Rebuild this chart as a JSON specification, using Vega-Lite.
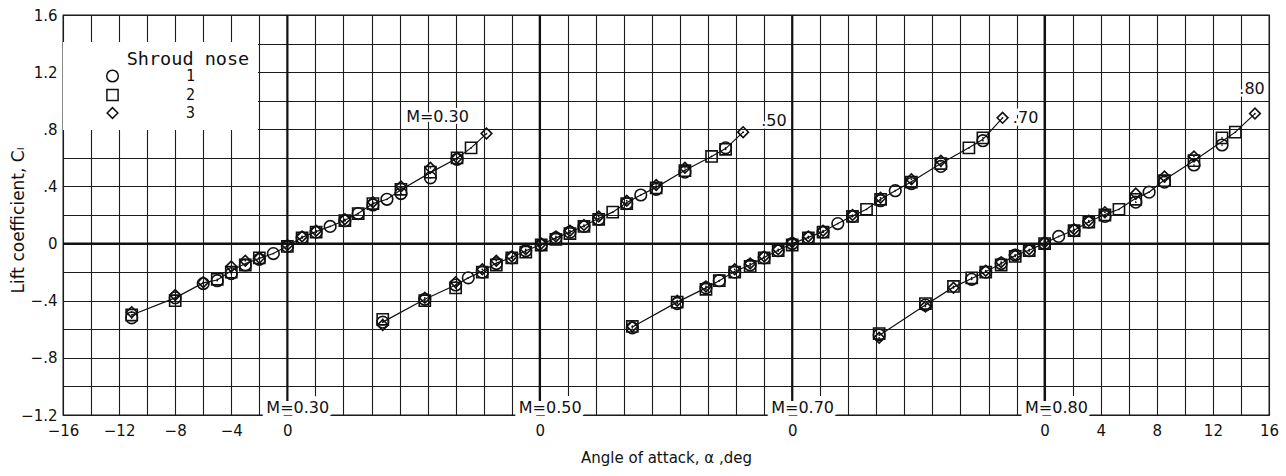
{
  "$schema": "https://vega.github.io/schema/vega-lite/v6.json",
  "width": 1206,
  "height": 400,
  "autosize": {"type": "none"},
  "padding": {"left": 63, "top": 15, "right": 17, "bottom": 61},
  "background": "white",
  "config": {
    "font": "DejaVu Sans",
    "view": {"stroke": "#111", "strokeWidth": 1.3},
    "axis": {
      "domain": false,
      "ticks": false,
      "gridColor": "#1c1c1c",
      "gridWidth": 1.1,
      "gridOpacity": 1,
      "labelColor": "#111",
      "titleColor": "#111",
      "labelFont": "DejaVu Sans",
      "titleFont": "DejaVu Sans",
      "titleFontWeight": "normal",
      "labelFlush": false
    },
    "legend": {
      "orient": "none",
      "legendX": 0,
      "legendY": 27,
      "fillColor": "white",
      "padding": 8,
      "symbolOffset": 34,
      "symbolStrokeColor": "#111",
      "symbolStrokeWidth": 1.5,
      "labelOffset": 66,
      "rowPadding": 0,
      "titlePadding": 0,
      "titleFont": "DejaVu Sans Mono",
      "titleFontSize": 18.5,
      "titleFontWeight": "normal",
      "titleColor": "#111",
      "labelFont": "DejaVu Sans Mono",
      "labelFontSize": 15,
      "labelColor": "#111"
    }
  },
  "resolve": {"axis": {"x": "independent", "y": "independent"}},
  "datasets": {
    "lift": [
      {"m": 0.3, "n": 1, "a": -11.1, "cl": -0.52}, {"m": 0.3, "n": 2, "a": -11.1, "cl": -0.50}, {"m": 0.3, "n": 3, "a": -11.1, "cl": -0.48},
      {"m": 0.3, "n": 1, "a": -8, "cl": -0.38}, {"m": 0.3, "n": 2, "a": -8, "cl": -0.40}, {"m": 0.3, "n": 3, "a": -8, "cl": -0.36},
      {"m": 0.3, "n": 1, "a": -6, "cl": -0.28}, {"m": 0.3, "n": 3, "a": -6, "cl": -0.27},
      {"m": 0.3, "n": 1, "a": -5, "cl": -0.26}, {"m": 0.3, "n": 2, "a": -5, "cl": -0.25},
      {"m": 0.3, "n": 1, "a": -4, "cl": -0.21}, {"m": 0.3, "n": 2, "a": -4, "cl": -0.20}, {"m": 0.3, "n": 3, "a": -4, "cl": -0.16},
      {"m": 0.3, "n": 1, "a": -3, "cl": -0.15}, {"m": 0.3, "n": 2, "a": -3, "cl": -0.15}, {"m": 0.3, "n": 3, "a": -3, "cl": -0.12},
      {"m": 0.3, "n": 1, "a": -2, "cl": -0.11}, {"m": 0.3, "n": 2, "a": -2, "cl": -0.10}, {"m": 0.3, "n": 3, "a": -2, "cl": -0.10},
      {"m": 0.3, "n": 1, "a": -1, "cl": -0.07},
      {"m": 0.3, "n": 1, "a": 0, "cl": -0.02}, {"m": 0.3, "n": 2, "a": 0, "cl": -0.02}, {"m": 0.3, "n": 3, "a": 0, "cl": -0.01},
      {"m": 0.3, "n": 1, "a": 1.05, "cl": 0.04}, {"m": 0.3, "n": 2, "a": 1.05, "cl": 0.04}, {"m": 0.3, "n": 3, "a": 1.05, "cl": 0.05},
      {"m": 0.3, "n": 1, "a": 2.05, "cl": 0.08}, {"m": 0.3, "n": 2, "a": 2.05, "cl": 0.08}, {"m": 0.3, "n": 3, "a": 2.05, "cl": 0.09},
      {"m": 0.3, "n": 1, "a": 3.05, "cl": 0.12},
      {"m": 0.3, "n": 1, "a": 4.1, "cl": 0.16}, {"m": 0.3, "n": 2, "a": 4.1, "cl": 0.16}, {"m": 0.3, "n": 3, "a": 4.1, "cl": 0.17},
      {"m": 0.3, "n": 1, "a": 5.05, "cl": 0.21}, {"m": 0.3, "n": 2, "a": 5.05, "cl": 0.21},
      {"m": 0.3, "n": 1, "a": 6.1, "cl": 0.27}, {"m": 0.3, "n": 2, "a": 6.1, "cl": 0.28}, {"m": 0.3, "n": 3, "a": 6.1, "cl": 0.29},
      {"m": 0.3, "n": 1, "a": 7.1, "cl": 0.31},
      {"m": 0.3, "n": 1, "a": 8.1, "cl": 0.35}, {"m": 0.3, "n": 2, "a": 8.1, "cl": 0.38}, {"m": 0.3, "n": 3, "a": 8.1, "cl": 0.40},
      {"m": 0.3, "n": 1, "a": 10.2, "cl": 0.46}, {"m": 0.3, "n": 2, "a": 10.2, "cl": 0.50}, {"m": 0.3, "n": 3, "a": 10.2, "cl": 0.53},
      {"m": 0.3, "n": 1, "a": 12.1, "cl": 0.59}, {"m": 0.3, "n": 2, "a": 12.1, "cl": 0.60}, {"m": 0.3, "n": 3, "a": 12.1, "cl": 0.60},
      {"m": 0.3, "n": 2, "a": 13.1, "cl": 0.67},
      {"m": 0.3, "n": 3, "a": 14.2, "cl": 0.77},

      {"m": 0.5, "n": 1, "a": -11.2, "cl": -0.55}, {"m": 0.5, "n": 2, "a": -11.2, "cl": -0.53}, {"m": 0.5, "n": 3, "a": -11.2, "cl": -0.57},
      {"m": 0.5, "n": 1, "a": -8.2, "cl": -0.39}, {"m": 0.5, "n": 2, "a": -8.2, "cl": -0.40}, {"m": 0.5, "n": 3, "a": -8.2, "cl": -0.38},
      {"m": 0.5, "n": 1, "a": -6, "cl": -0.29}, {"m": 0.5, "n": 2, "a": -6, "cl": -0.31}, {"m": 0.5, "n": 3, "a": -6, "cl": -0.27},
      {"m": 0.5, "n": 1, "a": -5.1, "cl": -0.24},
      {"m": 0.5, "n": 1, "a": -4.1, "cl": -0.20}, {"m": 0.5, "n": 2, "a": -4.1, "cl": -0.20}, {"m": 0.5, "n": 3, "a": -4.1, "cl": -0.18},
      {"m": 0.5, "n": 1, "a": -3.1, "cl": -0.14}, {"m": 0.5, "n": 2, "a": -3.1, "cl": -0.15}, {"m": 0.5, "n": 3, "a": -3.1, "cl": -0.12},
      {"m": 0.5, "n": 1, "a": -2, "cl": -0.10}, {"m": 0.5, "n": 2, "a": -2, "cl": -0.10}, {"m": 0.5, "n": 3, "a": -2, "cl": -0.09},
      {"m": 0.5, "n": 1, "a": -1, "cl": -0.05}, {"m": 0.5, "n": 2, "a": -1, "cl": -0.06}, {"m": 0.5, "n": 3, "a": -1, "cl": -0.04},
      {"m": 0.5, "n": 1, "a": 0.1, "cl": -0.01}, {"m": 0.5, "n": 2, "a": 0.1, "cl": -0.01}, {"m": 0.5, "n": 3, "a": 0.1, "cl": 0.0},
      {"m": 0.5, "n": 1, "a": 1.15, "cl": 0.04}, {"m": 0.5, "n": 2, "a": 1.15, "cl": 0.03}, {"m": 0.5, "n": 3, "a": 1.15, "cl": 0.05},
      {"m": 0.5, "n": 1, "a": 2.15, "cl": 0.08}, {"m": 0.5, "n": 2, "a": 2.15, "cl": 0.07}, {"m": 0.5, "n": 3, "a": 2.15, "cl": 0.09},
      {"m": 0.5, "n": 1, "a": 3.15, "cl": 0.12}, {"m": 0.5, "n": 2, "a": 3.15, "cl": 0.12}, {"m": 0.5, "n": 3, "a": 3.15, "cl": 0.13},
      {"m": 0.5, "n": 1, "a": 4.2, "cl": 0.17}, {"m": 0.5, "n": 2, "a": 4.2, "cl": 0.17}, {"m": 0.5, "n": 3, "a": 4.2, "cl": 0.19},
      {"m": 0.5, "n": 2, "a": 5.2, "cl": 0.22},
      {"m": 0.5, "n": 1, "a": 6.2, "cl": 0.28}, {"m": 0.5, "n": 2, "a": 6.2, "cl": 0.28}, {"m": 0.5, "n": 3, "a": 6.2, "cl": 0.30},
      {"m": 0.5, "n": 1, "a": 7.2, "cl": 0.34},
      {"m": 0.5, "n": 1, "a": 8.3, "cl": 0.38}, {"m": 0.5, "n": 2, "a": 8.3, "cl": 0.39}, {"m": 0.5, "n": 3, "a": 8.3, "cl": 0.41},
      {"m": 0.5, "n": 1, "a": 10.35, "cl": 0.50}, {"m": 0.5, "n": 2, "a": 10.35, "cl": 0.51}, {"m": 0.5, "n": 3, "a": 10.35, "cl": 0.53},
      {"m": 0.5, "n": 2, "a": 12.25, "cl": 0.61},
      {"m": 0.5, "n": 1, "a": 13.25, "cl": 0.67}, {"m": 0.5, "n": 2, "a": 13.25, "cl": 0.66},
      {"m": 0.5, "n": 3, "a": 14.5, "cl": 0.78},

      {"m": 0.7, "n": 1, "a": -11.4, "cl": -0.59}, {"m": 0.7, "n": 2, "a": -11.4, "cl": -0.58}, {"m": 0.7, "n": 3, "a": -11.4, "cl": -0.58},
      {"m": 0.7, "n": 1, "a": -8.2, "cl": -0.42}, {"m": 0.7, "n": 2, "a": -8.2, "cl": -0.41}, {"m": 0.7, "n": 3, "a": -8.2, "cl": -0.40},
      {"m": 0.7, "n": 1, "a": -6.15, "cl": -0.31}, {"m": 0.7, "n": 2, "a": -6.15, "cl": -0.32}, {"m": 0.7, "n": 3, "a": -6.15, "cl": -0.30},
      {"m": 0.7, "n": 1, "a": -5.2, "cl": -0.26}, {"m": 0.7, "n": 2, "a": -5.2, "cl": -0.26},
      {"m": 0.7, "n": 1, "a": -4.1, "cl": -0.20}, {"m": 0.7, "n": 2, "a": -4.1, "cl": -0.20}, {"m": 0.7, "n": 3, "a": -4.1, "cl": -0.18},
      {"m": 0.7, "n": 1, "a": -3, "cl": -0.15}, {"m": 0.7, "n": 2, "a": -3, "cl": -0.16}, {"m": 0.7, "n": 3, "a": -3, "cl": -0.14},
      {"m": 0.7, "n": 1, "a": -2, "cl": -0.10}, {"m": 0.7, "n": 2, "a": -2, "cl": -0.10}, {"m": 0.7, "n": 3, "a": -2, "cl": -0.09},
      {"m": 0.7, "n": 1, "a": -1, "cl": -0.05}, {"m": 0.7, "n": 2, "a": -1, "cl": -0.05}, {"m": 0.7, "n": 3, "a": -1, "cl": -0.04},
      {"m": 0.7, "n": 1, "a": 0, "cl": 0.0}, {"m": 0.7, "n": 2, "a": 0, "cl": -0.01}, {"m": 0.7, "n": 3, "a": 0, "cl": 0.01},
      {"m": 0.7, "n": 1, "a": 1.15, "cl": 0.04}, {"m": 0.7, "n": 2, "a": 1.15, "cl": 0.04}, {"m": 0.7, "n": 3, "a": 1.15, "cl": 0.05},
      {"m": 0.7, "n": 1, "a": 2.2, "cl": 0.08}, {"m": 0.7, "n": 2, "a": 2.2, "cl": 0.08}, {"m": 0.7, "n": 3, "a": 2.2, "cl": 0.09},
      {"m": 0.7, "n": 1, "a": 3.25, "cl": 0.14},
      {"m": 0.7, "n": 1, "a": 4.3, "cl": 0.19}, {"m": 0.7, "n": 2, "a": 4.3, "cl": 0.19}, {"m": 0.7, "n": 3, "a": 4.3, "cl": 0.20},
      {"m": 0.7, "n": 2, "a": 5.3, "cl": 0.24},
      {"m": 0.7, "n": 1, "a": 6.3, "cl": 0.30}, {"m": 0.7, "n": 2, "a": 6.3, "cl": 0.31}, {"m": 0.7, "n": 3, "a": 6.3, "cl": 0.32},
      {"m": 0.7, "n": 1, "a": 7.35, "cl": 0.37},
      {"m": 0.7, "n": 1, "a": 8.5, "cl": 0.42}, {"m": 0.7, "n": 2, "a": 8.5, "cl": 0.43}, {"m": 0.7, "n": 3, "a": 8.5, "cl": 0.45},
      {"m": 0.7, "n": 1, "a": 10.6, "cl": 0.54}, {"m": 0.7, "n": 2, "a": 10.6, "cl": 0.56}, {"m": 0.7, "n": 3, "a": 10.6, "cl": 0.58},
      {"m": 0.7, "n": 2, "a": 12.6, "cl": 0.67},
      {"m": 0.7, "n": 1, "a": 13.6, "cl": 0.72}, {"m": 0.7, "n": 2, "a": 13.6, "cl": 0.74},
      {"m": 0.7, "n": 3, "a": 15.0, "cl": 0.88},

      {"m": 0.8, "n": 1, "a": -11.8, "cl": -0.64}, {"m": 0.8, "n": 2, "a": -11.8, "cl": -0.63}, {"m": 0.8, "n": 3, "a": -11.8, "cl": -0.66},
      {"m": 0.8, "n": 1, "a": -8.5, "cl": -0.43}, {"m": 0.8, "n": 2, "a": -8.5, "cl": -0.42}, {"m": 0.8, "n": 3, "a": -8.5, "cl": -0.44},
      {"m": 0.8, "n": 2, "a": -6.5, "cl": -0.30}, {"m": 0.8, "n": 3, "a": -6.5, "cl": -0.31},
      {"m": 0.8, "n": 1, "a": -5.2, "cl": -0.25}, {"m": 0.8, "n": 2, "a": -5.2, "cl": -0.24},
      {"m": 0.8, "n": 1, "a": -4.2, "cl": -0.20}, {"m": 0.8, "n": 2, "a": -4.2, "cl": -0.20}, {"m": 0.8, "n": 3, "a": -4.2, "cl": -0.19},
      {"m": 0.8, "n": 1, "a": -3.1, "cl": -0.14}, {"m": 0.8, "n": 2, "a": -3.1, "cl": -0.15}, {"m": 0.8, "n": 3, "a": -3.1, "cl": -0.13},
      {"m": 0.8, "n": 1, "a": -2.1, "cl": -0.08}, {"m": 0.8, "n": 2, "a": -2.1, "cl": -0.09}, {"m": 0.8, "n": 3, "a": -2.1, "cl": -0.08},
      {"m": 0.8, "n": 1, "a": -1.1, "cl": -0.05}, {"m": 0.8, "n": 2, "a": -1.1, "cl": -0.05}, {"m": 0.8, "n": 3, "a": -1.1, "cl": -0.04},
      {"m": 0.8, "n": 1, "a": 0, "cl": 0.0}, {"m": 0.8, "n": 2, "a": 0, "cl": 0.0}, {"m": 0.8, "n": 3, "a": 0, "cl": 0.01},
      {"m": 0.8, "n": 1, "a": 1, "cl": 0.05},
      {"m": 0.8, "n": 1, "a": 2.1, "cl": 0.09}, {"m": 0.8, "n": 2, "a": 2.1, "cl": 0.09}, {"m": 0.8, "n": 3, "a": 2.1, "cl": 0.10},
      {"m": 0.8, "n": 1, "a": 3.15, "cl": 0.15}, {"m": 0.8, "n": 2, "a": 3.15, "cl": 0.15}, {"m": 0.8, "n": 3, "a": 3.15, "cl": 0.16},
      {"m": 0.8, "n": 1, "a": 4.3, "cl": 0.19}, {"m": 0.8, "n": 2, "a": 4.3, "cl": 0.20}, {"m": 0.8, "n": 3, "a": 4.3, "cl": 0.22},
      {"m": 0.8, "n": 2, "a": 5.3, "cl": 0.24},
      {"m": 0.8, "n": 1, "a": 6.5, "cl": 0.29}, {"m": 0.8, "n": 2, "a": 6.5, "cl": 0.31}, {"m": 0.8, "n": 3, "a": 6.5, "cl": 0.35},
      {"m": 0.8, "n": 1, "a": 7.45, "cl": 0.36},
      {"m": 0.8, "n": 1, "a": 8.55, "cl": 0.43}, {"m": 0.8, "n": 2, "a": 8.55, "cl": 0.44}, {"m": 0.8, "n": 3, "a": 8.55, "cl": 0.47},
      {"m": 0.8, "n": 1, "a": 10.65, "cl": 0.55}, {"m": 0.8, "n": 2, "a": 10.65, "cl": 0.58}, {"m": 0.8, "n": 3, "a": 10.65, "cl": 0.61},
      {"m": 0.8, "n": 1, "a": 12.65, "cl": 0.69}, {"m": 0.8, "n": 2, "a": 12.65, "cl": 0.74},
      {"m": 0.8, "n": 2, "a": 13.6, "cl": 0.78},
      {"m": 0.8, "n": 3, "a": 15.0, "cl": 0.91}
    ]
  },
  "layer": [
    {
      "data": {"name": "lift"},
      "transform": [
        {"calculate": "datum.a + (datum.m == 0.3 ? 0 : datum.m == 0.5 ? 18 : datum.m == 0.7 ? 36 : 54)", "as": "x"}
      ],
      "mark": {"type": "point", "opacity": 0},
      "encoding": {
        "x": {
          "field": "x",
          "type": "quantitative",
          "scale": {"domain": [-16, 70], "nice": false, "zero": false},
          "axis": {
            "orient": "bottom",
            "values": [-16, -14, -12, -10, -8, -6, -4, -2, 0, 2, 4, 6, 8, 10, 12, 14, 16, 18, 20, 22, 24, 26, 28, 30, 32, 34, 36, 38, 40, 42, 44, 46, 48, 50, 52, 54, 56, 58, 60, 62, 64, 66, 68, 70],
            "labels": false,
            "title": null,
            "grid": true
          }
        },
        "y": {
          "field": "cl",
          "type": "quantitative",
          "scale": {"domain": [-1.2, 1.6], "nice": false, "zero": false},
          "axis": {
            "orient": "left",
            "values": [-1.2, -1, -0.8, -0.6, -0.4, -0.2, 0, 0.2, 0.4, 0.6, 0.8, 1, 1.2, 1.4, 1.6],
            "labelExpr": "indexof([-1.2, -0.8, -0.4, 0, 0.4, 0.8, 1.2, 1.6], datum.value) < 0 ? '' : datum.value == 0 ? '0' : replace(format(datum.value, '.1f'), '0.', '.')",
            "title": "Lift coefficient, Cₗ",
            "titleFontSize": 17,
            "titleX": -36,
            "titleY": 205,
            "labelFontSize": 15,
            "labelPadding": 6,
            "labelFlush": false,
            "labelOverlap": false,
            "grid": true,
            "gridColor": "#1c1c1c",
            "gridWidth": 1.1
          }
        }
      }
    },
    {
      "data": {"values": [{"x": 0}, {"x": 18}, {"x": 36}, {"x": 54}]},
      "mark": {"type": "rule", "color": "#111", "strokeWidth": 2.2},
      "encoding": {
        "x": {
          "field": "x",
          "type": "quantitative",
          "axis": {
            "orient": "bottom",
            "values": [-16, -12, -8, -4, 0, 18, 36, 54, 58, 62, 66, 70],
            "labelExpr": "datum.value <= 0 ? format(datum.value, 'd') : datum.value <= 54 ? '0' : format(datum.value - 54, 'd')",
            "title": "Angle of attack, α ,deg",
            "titleFontSize": 15,
            "titlePadding": 12,
            "labelFontSize": 15,
            "labelPadding": 8,
            "labelFlush": false,
            "labelOverlap": false,
            "grid": false
          }
        }
      }
    },
    {
      "data": {"values": [{"cl": 0}]},
      "mark": {"type": "rule", "color": "#111", "strokeWidth": 2.2},
      "encoding": {
        "y": {"field": "cl", "type": "quantitative", "axis": null}
      }
    },
    {
      "data": {"name": "lift"},
      "transform": [
        {"calculate": "datum.a + (datum.m == 0.3 ? 0 : datum.m == 0.5 ? 18 : datum.m == 0.7 ? 36 : 54)", "as": "x"}
      ],
      "layer": [
        {
          "mark": {"type": "line", "color": "#111", "strokeWidth": 1.2},
          "encoding": {
            "x": {"field": "x", "type": "quantitative", "axis": null},
            "y": {"aggregate": "mean", "field": "cl", "type": "quantitative", "axis": null},
            "detail": {"field": "m"}
          }
        },
        {
          "mark": {"type": "point", "filled": false, "color": "#111", "strokeWidth": 1.6, "opacity": 1},
          "encoding": {
            "x": {"field": "x", "type": "quantitative", "axis": null},
            "y": {"field": "cl", "type": "quantitative", "axis": null},
            "shape": {
              "field": "n",
              "type": "ordinal",
              "title": "\u200b\u00a0\u00a0\u00a0\u00a0\u00a0Shroud nose",
              "scale": {"domain": [1, 2, 3], "range": ["circle", "square", "diamond"]}
            },
            "size": {
              "field": "n",
              "type": "ordinal",
              "title": "\u200b\u00a0\u00a0\u00a0\u00a0\u00a0Shroud nose",
              "scale": {"domain": [1, 2, 3], "range": [135, 115, 195]}
            }
          }
        },
        {
          "mark": {"type": "circle", "color": "#111", "size": 3, "opacity": 1},
          "encoding": {
            "x": {"field": "x", "type": "quantitative", "axis": null},
            "y": {"field": "cl", "type": "quantitative", "axis": null}
          }
        }
      ]
    },
    {
      "data": {"values": [
        {"t": "M=0.30", "x": -1.5, "cl": -1.2},
        {"t": "M=0.50", "x": 16.5, "cl": -1.2},
        {"t": "M=0.70", "x": 34.5, "cl": -1.2},
        {"t": "M=0.80", "x": 52.6, "cl": -1.2}
      ]},
      "encoding": {
        "x": {"field": "x", "type": "quantitative", "axis": null},
        "y": {"field": "cl", "type": "quantitative", "axis": null},
        "text": {"field": "t"}
      },
      "layer": [
        {
          "mark": {"type": "text", "align": "left", "baseline": "alphabetic", "dy": -2, "fontSize": 16},
          "encoding": {
            "fill": {"value": "white"},
            "stroke": {"value": "white"},
            "strokeWidth": {"value": 10}
          }
        },
        {"mark": {"type": "text", "align": "left", "baseline": "alphabetic", "dy": -2, "fontSize": 16, "color": "#111"}}
      ]
    },
    {
      "data": {"values": [
        {"t": "M=0.30", "x": 12.95, "cl": 0.885},
        {"t": ".50", "x": 35.6, "cl": 0.86},
        {"t": ".70", "x": 53.55, "cl": 0.88},
        {"t": ".80", "x": 69.7, "cl": 1.08}
      ]},
      "encoding": {
        "x": {"field": "x", "type": "quantitative", "axis": null},
        "y": {"field": "cl", "type": "quantitative", "axis": null},
        "text": {"field": "t"}
      },
      "layer": [
        {
          "mark": {"type": "text", "align": "right", "baseline": "middle", "fontSize": 16},
          "encoding": {
            "fill": {"value": "white"},
            "stroke": {"value": "white"},
            "strokeWidth": {"value": 5}
          }
        },
        {"mark": {"type": "text", "align": "right", "baseline": "middle", "fontSize": 16, "color": "#111"}}
      ]
    }
  ]
}
